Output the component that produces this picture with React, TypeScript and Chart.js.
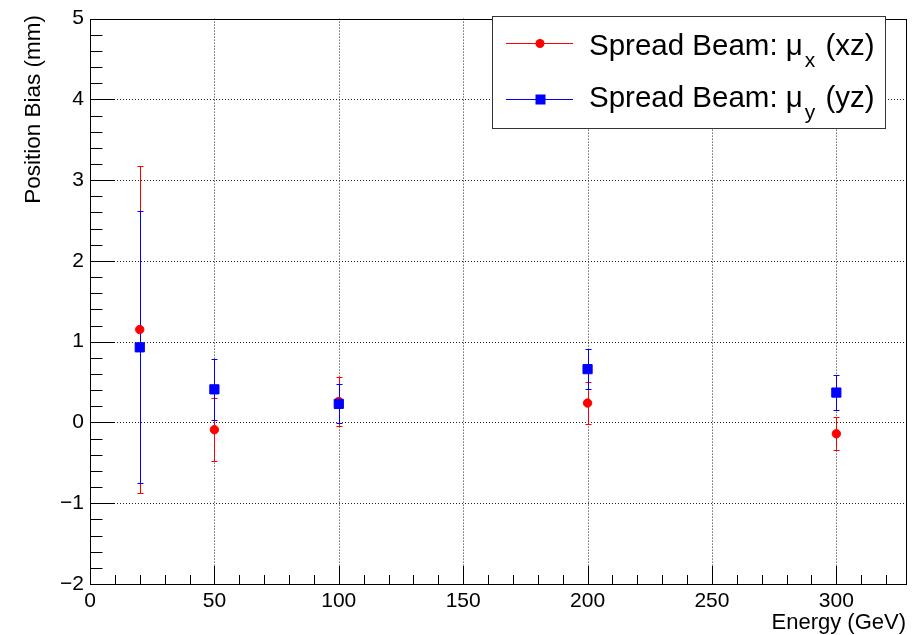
import React, { useEffect, useRef } from 'react';
import { Chart, registerables } from 'chart.js';

Chart.register(...registerables);

// ---- data ----
const energies = [20, 50, 100, 200, 300];
const muX = [1.15, -0.09, 0.26, 0.24, -0.14];
const muXErr = [2.02, 0.39, 0.3, 0.255, 0.205];
const muY = [0.93, 0.41, 0.23, 0.66, 0.37];
const muYErr = [1.685, 0.38, 0.24, 0.25, 0.22];

const xRange = [0, 328];
const yRange = [-2, 5];
const xMajorStep = 50;
const xMinorStep = 10;
const yMajorStep = 1;
const yMinorStep = 0.2;

const seriesLabels = ['Spread Beam: \u03bc', 'Spread Beam: \u03bc'];
const seriesSubs = ['x', 'y'];
const seriesSuffix = [' (xz)', ' (yz)'];
const xTitle = 'Energy (GeV)';
const yTitle = 'Position Bias (mm)';

const FONT = '"Liberation Sans", Arial, Helvetica, sans-serif';
const RED = '#ff0000';
const BLUE = '#0000ff';

const rootPlugin = {
  id: 'rootStyle',
  beforeDatasetsDraw(chart: any) {
    const { ctx, chartArea: a } = chart;
    const xs = chart.scales.x;
    const ys = chart.scales.y;
    ctx.save();
    // dotted grid
    ctx.strokeStyle = '#222';
    ctx.lineWidth = 1;
    ctx.setLineDash([1, 2]);
    for (let v = xRange[0] + xMajorStep; v < xRange[1]; v += xMajorStep) {
      const px = Math.round(xs.getPixelForValue(v)) + 0.5;
      ctx.beginPath();
      ctx.moveTo(px, a.top);
      ctx.lineTo(px, a.bottom);
      ctx.stroke();
    }
    for (let v = yRange[0] + yMajorStep; v < yRange[1]; v += yMajorStep) {
      const py = Math.round(ys.getPixelForValue(v)) + 0.5;
      ctx.beginPath();
      ctx.moveTo(a.left, py);
      ctx.lineTo(a.right, py);
      ctx.stroke();
    }
    ctx.setLineDash([]);
    // error bars
    chart.data.datasets.forEach((ds: any) => {
      ctx.strokeStyle = ds.borderColor;
      ctx.lineWidth = 1;
      ds.data.forEach((p: any, i: number) => {
        const e = ds.errors[i];
        const px = Math.round(xs.getPixelForValue(p.x)) + 0.5;
        const pt = Math.round(ys.getPixelForValue(p.y + e)) + 0.5;
        const pb = Math.round(ys.getPixelForValue(p.y - e)) + 0.5;
        ctx.beginPath();
        ctx.moveTo(px, pt);
        ctx.lineTo(px, pb);
        ctx.moveTo(px - 3, pt);
        ctx.lineTo(px + 3, pt);
        ctx.moveTo(px - 3, pb);
        ctx.lineTo(px + 3, pb);
        ctx.stroke();
      });
    });
    ctx.restore();
  },
  afterDatasetsDraw(chart: any) {
    const { ctx, chartArea: a } = chart;
    const xs = chart.scales.x;
    const ys = chart.scales.y;
    ctx.save();
    ctx.strokeStyle = '#000';
    ctx.lineWidth = 1;
    // frame
    ctx.strokeRect(Math.round(a.left) + 0.5, Math.round(a.top) + 0.5, Math.round(a.right - a.left), Math.round(a.bottom - a.top));
    // x ticks
    ctx.beginPath();
    for (let v = xRange[0]; v <= xRange[1] + 1e-9; v += xMinorStep) {
      const major = Math.abs(v / xMajorStep - Math.round(v / xMajorStep)) < 1e-6;
      const px = Math.round(xs.getPixelForValue(v)) + 0.5;
      const len = major ? 18 : 9;
      ctx.moveTo(px, a.bottom);
      ctx.lineTo(px, a.bottom - len);
    }
    // y ticks
    for (let k = 0; ; k++) {
      const v = yRange[0] + k * yMinorStep;
      if (v > yRange[1] + 1e-9) break;
      const major = Math.abs(v / yMajorStep - Math.round(v / yMajorStep)) < 1e-6;
      const py = Math.round(ys.getPixelForValue(v)) + 0.5;
      const len = major ? 25 : 12.5;
      ctx.moveTo(a.left, py);
      ctx.lineTo(a.left + len, py);
    }
    ctx.stroke();
    ctx.restore();
  },
  afterDraw(chart: any) {
    const { ctx, chartArea: a } = chart;
    ctx.save();
    ctx.fillStyle = '#000';
    // axis titles
    ctx.font = `22px ${FONT}`;
    ctx.textAlign = 'right';
    ctx.textBaseline = 'alphabetic';
    ctx.fillText(xTitle, a.right, 629);
    ctx.save();
    ctx.translate(40, 15);
    ctx.rotate(-Math.PI / 2);
    ctx.font = `22.5px ${FONT}`;
    ctx.fillText(yTitle, 0, 0);
    ctx.restore();

    // legend
    const lx = 492.5, ly = 16.5, lw = 393, lh = 112;
    ctx.fillStyle = '#fff';
    ctx.fillRect(lx, ly, lw, lh);
    ctx.strokeStyle = '#333';
    ctx.lineWidth = 1;
    ctx.strokeRect(lx, ly, lw, lh);
    const rows = [
      { color: RED, style: 'circle', lineY: 43.5, base: 55 },
      { color: BLUE, style: 'rect', lineY: 99.5, base: 107 },
    ];
    rows.forEach((r, i) => {
      ctx.strokeStyle = r.color;
      ctx.fillStyle = r.color;
      ctx.beginPath();
      ctx.moveTo(506, r.lineY);
      ctx.lineTo(573, r.lineY);
      ctx.stroke();
      ctx.beginPath();
      if (r.style === 'circle') {
        ctx.arc(540, r.lineY, 4.5, 0, Math.PI * 2);
      } else {
        ctx.rect(535.5, r.lineY - 5, 10, 10);
      }
      ctx.fill();
      ctx.fillStyle = '#000';
      ctx.textAlign = 'left';
      ctx.font = `29.5px ${FONT}`;
      let x = 589;
      ctx.fillText(seriesLabels[i], x, r.base);
      x += ctx.measureText(seriesLabels[i]).width + 2;
      ctx.font = `21px ${FONT}`;
      ctx.fillText(seriesSubs[i], x, r.base + 12);
      x += ctx.measureText(seriesSubs[i]).width + 2;
      ctx.font = `29.5px ${FONT}`;
      ctx.fillText(seriesSuffix[i], x, r.base);
    });
    ctx.restore();
  },
};

export default function App() {
  const ref = useRef<HTMLCanvasElement | null>(null);
  useEffect(() => {
    const canvas = ref.current;
    if (!canvas) return;
    const minus = (v: any) => String(v).replace('-', '\u2212');
    const chart = new Chart(canvas, {
      type: 'scatter',
      data: {
        datasets: [
          {
            label: 'mu_x (xz)',
            data: energies.map((x, i) => ({ x, y: muX[i] })),
            errors: muXErr,
            pointStyle: 'circle',
            pointRadius: 4.2,
            borderWidth: 1,
            backgroundColor: RED,
            borderColor: RED,
            showLine: false,
            order: 1,
          } as any,
          {
            label: 'mu_y (yz)',
            data: energies.map((x, i) => ({ x, y: muY[i] })),
            errors: muYErr,
            pointStyle: 'rect',
            pointRadius: 6.5,
            borderWidth: 1,
            backgroundColor: BLUE,
            borderColor: BLUE,
            showLine: false,
            order: 0,
          } as any,
        ],
      },
      options: {
        responsive: false,
        animation: false,
        layout: { padding: { top: 16, right: 12, left: 0, bottom: 0 } },
        plugins: { legend: { display: false }, tooltip: { enabled: false } },
        scales: {
          x: {
            type: 'linear',
            min: xRange[0],
            max: xRange[1],
            grid: { display: false, drawTicks: false },
            border: { display: false },
            ticks: {
              stepSize: xMajorStep,
              includeBounds: false,
              color: '#000',
              padding: 5,
              maxRotation: 0,
              font: { family: FONT, size: 21 },
              callback: (v: any) => minus(v),
            },
            afterFit: (s: any) => {
              s.height = 51;
            },
          },
          y: {
            type: 'linear',
            min: yRange[0],
            max: yRange[1],
            grid: { display: false, drawTicks: false },
            border: { display: false },
            ticks: {
              stepSize: yMajorStep,
              color: '#000',
              padding: 6,
              font: { family: FONT, size: 21 },
              callback: (v: any) => minus(v),
            },
            afterFit: (s: any) => {
              s.width = 90;
            },
          },
        },
      } as any,
      plugins: [rootPlugin],
    });
    return () => chart.destroy();
  }, []);
  return (
    <div style={{ position: 'fixed', left: 0, top: 0, width: 918, height: 635, background: '#fff' }}>
      <canvas ref={ref} width={918} height={635} style={{ display: 'block' }} />
    </div>
  );
}
